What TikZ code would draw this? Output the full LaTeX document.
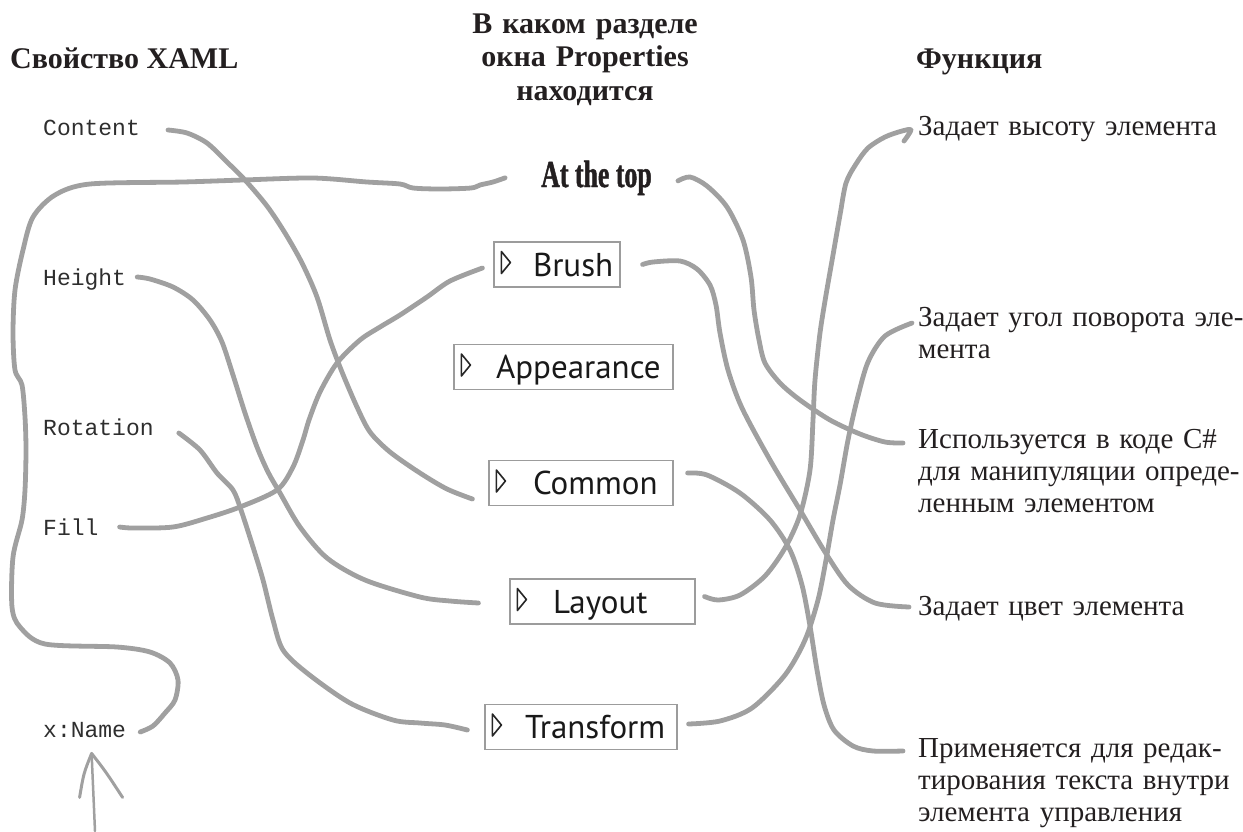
\documentclass[tikz,border=0pt]{standalone}
\usepackage{fontspec}
\setmainfont{Liberation Serif}
\newfontfamily\codefont{Liberation Mono}
\newfontfamily\panelfont{PT Sans}
\newfontfamily\tagfont[FakeStretch=0.68,FakeBold=1.2]{Liberation Serif}
\usetikzlibrary{calc}

\definecolor{wiregray}{HTML}{A0A0A0}
\definecolor{framegray}{HTML}{9C9C9C}
\definecolor{ink}{HTML}{231F20}
\definecolor{codeink}{HTML}{2E2E2E}

\tikzset{
  head/.style={font=\fontsize{30}{33.5}\selectfont\bfseries, text=ink, inner sep=0pt},
  prop/.style={font=\codefont\fontsize{23}{26}\selectfont, text=codeink, inner sep=0pt, anchor=base west},
  func/.style={font=\fontsize{29}{32}\selectfont, text=ink, inner sep=0pt, anchor=base west,
    text width=345pt, align=left},
  panel/.style={draw=framegray, line width=1.2pt, fill=white, inner sep=0pt, text height=34pt,
    text depth=11pt, align=left, font=\panelfont\fontsize{33}{36}\selectfont, text=black!90},
  wire/.style={draw=wiregray, line width=4.8pt, line cap=round, line join=round},
  tri/.style={draw=black!85, line width=1.6pt, line join=round},
}

\begin{document}
\begin{tikzpicture}[x=1pt,y=-1pt]
  \useasboundingbox (0,0) rectangle (1243,831);

  % column heads
  \node[head, anchor=base west] (hprop) at (10,68) {Свойство XAML};
  \node[head, anchor=base, align=center, text width=300pt] (hsect) at (585,33)
    {В каком разделе\\окна Properties\\находится};
  \node[head, anchor=base west] (hfunc) at (916,68) {Функция};

  % XAML properties
  \node[prop] (content)  at (43,135) {Content};
  \node[prop] (height)   at (43,285) {Height};
  \node[prop] (rotation) at (43,435) {Rotation};
  \node[prop] (fill)     at (43,535) {Fill};
  \node[prop] (xname)    at (43,737) {x:Name};

  % sections of the Properties window
  \node[font=\tagfont\fontsize{38}{40}\selectfont\bfseries, text=ink, inner sep=0pt, anchor=base]
    (attop) at (596.5,187) {At the top};
  \node[panel, text width=126pt] (brush)  at (557,264.5) {\hspace*{39pt}Brush};
  \node[panel, text width=219pt] (appear) at (563.5,367) {\hspace*{42pt}Appearance};
  \node[panel, text width=184pt] (common) at (581,483)   {\hspace*{44pt}Common};
  \node[panel, text width=185pt] (layout) at (602.5,601.5) {\hspace*{43pt}Layout};
  \node[panel, text width=192pt] (transf) at (581,727)   {\hspace*{40pt}Transform};
  \foreach \b in {brush,appear,common,layout,transf}
    \draw[tri] ($(\b.west)+(8,-13)$) -- ++(0,22) -- ++(9,-11) -- cycle;

  % what each property does
  \node[func] (fheight) at (918,135) {Задает высоту элемента};
  \node[func] (frot)    at (918,326) {Задает угол поворота эле-\\мента};
  \node[func] (fuse)    at (918,448) {Используется в коде C\#\\для манипуляции опреде-\\ленным элементом};
  \node[func] (fcolor)  at (918,615) {Задает цвет элемента};
  \node[func] (fedit)   at (918,757) {Применяется для редак-\\тирования текста внутри\\элемента управления};

  % left wires
  \draw[wire] plot[smooth] coordinates {([xshift=28pt,yshift=5pt]content.base east)
    (187,133) (207,143) (227,162) (245,180) (267,206) (285,233) (302,263) (317,297)
    (330,340) (342,372) (357,407) (370,432) (390,452) (420,473) (447,489)
    ([xshift=-16pt,yshift=-16pt]common.west)};
  \draw[wire] plot[smooth] coordinates {([xshift=-36pt]attop.west)
    (493,182) (480,185) (471,188) (440,189) (413,188) (400,184) (367,182) (313,178)
    (243,180) (183,182) (90,184) (55,195) (33,217) (23,250) (15,290) (13,333) (15,370)
    (22,385) (25,417) (26,450) (25,490) (22,520) (13,557) (12,607) (20,627) (45,644)
    (117,647) (150,652) (170,663) (178,680) (175,700) (165,713) (153,726)
    ([xshift=14pt,yshift=5pt]xname.base east)};
  \draw[wire] plot[smooth] coordinates {([xshift=11pt,yshift=8pt]height.base east)
    (150,279) (173,287) (193,300) (210,320) (222,342) (233,375) (245,413) (257,447)
    (268,472) (280,493) (300,527) (327,558) (365,580) (420,597) (450,601)
    ([xshift=-31pt,yshift=-1.5pt]layout.west)};
  \draw[wire] plot[smooth] coordinates {([xshift=21pt,yshift=8pt]fill.base east)
    (133,528) (173,527) (207,518) (240,507) (277,490) (293,467) (303,440) (309,420)
    (320,392) (337,363) (360,340) (380,327) (400,315) (427,297) (450,281)
    ([xshift=-11pt,yshift=-3.5pt]brush.west)};
  \draw[wire] plot[smooth] coordinates {([xshift=25pt,yshift=2pt]rotation.base east)
    (200,450) (217,473) (233,490) (241,510) (253,547) (263,580) (273,620) (283,650)
    (307,673) (350,703) (393,720) (420,723) (445,725)
    ([xshift=-17pt,yshift=-3pt]transf.west)};

  % right wires
  \draw[wire] plot[smooth] coordinates {([xshift=26pt,yshift=-3pt]attop.east)
    (690,177) (707,186) (727,207) (743,240) (751,277) (754,310) (759,340) (765,363)
    (780,383) (800,400) (830,420) (860,434) (885,442)
    ([xshift=-15pt,yshift=5pt]fuse.base west)};
  \draw[wire] plot[smooth] coordinates {([xshift=22pt]brush.east)
    (653,262) (680,261) (697,269) (710,285) (716,305) (720,333) (728,370) (742,408)
    (770,460) (800,510) (825,552) (848,585) (875,603)
    ([xshift=-9pt,yshift=8pt]fcolor.base west)};
  \draw[wire] plot[smooth] coordinates {([xshift=14pt,yshift=10pt]common.east)
    (707,475) (740,493) (770,520) (790,550) (802,585) (810,626) (817,670) (824,705)
    (834,730) (853,746) (873,751)
    ([xshift=-15pt,yshift=6pt]fedit.base west)};
  \draw[wire] plot[smooth] coordinates {([xshift=9pt,yshift=5pt]layout.east)
    (718,600) (740,595) (765,576) (785,548) (800,515) (810,470) (813,420) (815,380)
    (820,333) (826,295) (833,255) (840,215) (846,183) (856,164) (868,148) (885,137)
    (902,131) (911,130)
    ([xshift=-14pt,yshift=-6pt]fheight.base west)};
  \draw[wire] plot[smooth] coordinates {([xshift=11pt,yshift=3pt]transf.east)
    (720,721) (752,708) (785,675) (805,640) (818,600) (826,560) (833,520) (840,485)
    (848,440) (857,400) (868,362) (885,336)
    ([xshift=-6pt,yshift=3pt]frot.base west)};

  % pointer up to x:Name
  \coordinate (tail) at (95,831);
  \coordinate (tip) at ([xshift=7pt,yshift=-16pt]xname.south);
  \draw[wiregray, line width=2.5pt, line cap=round] (tail) -- (tip);
  \draw[wiregray, line width=3pt, line cap=round, line join=round]
    ($(tip)+(-12,44)$) .. controls ($(tip)+(-8,20)$) .. (tip)
    .. controls ($(tip)+(14,18)$) .. ($(tip)+(31,44)$);
\end{tikzpicture}
\end{document}
